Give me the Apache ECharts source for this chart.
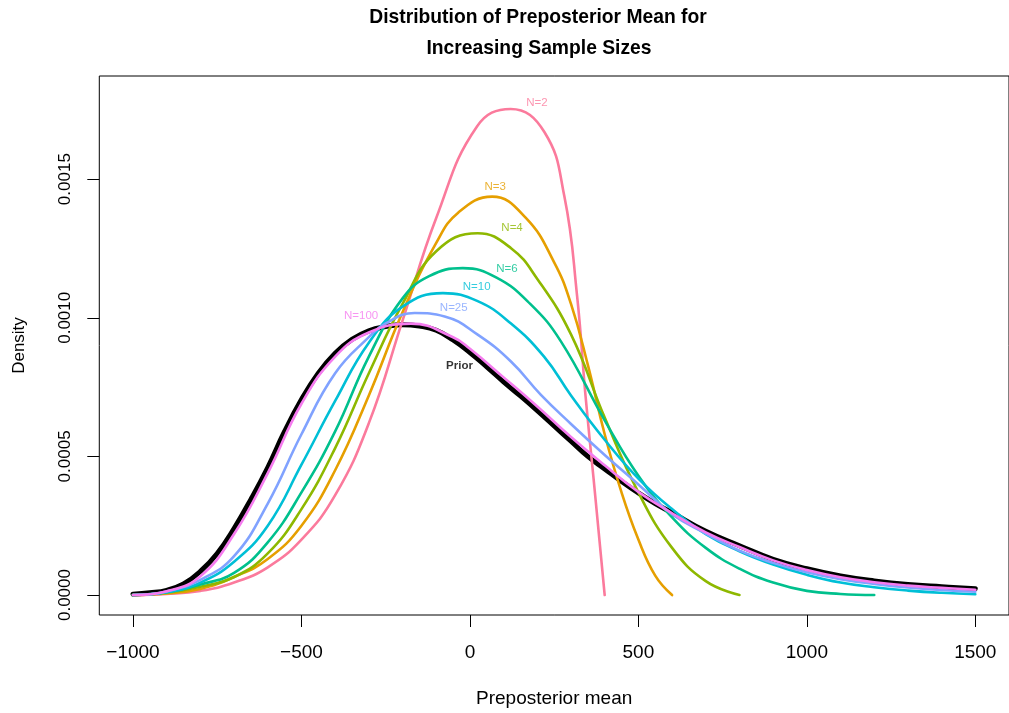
<!DOCTYPE html>
<html><head><meta charset="utf-8">
<script src="https://cdn.jsdelivr.net/npm/echarts@6/dist/echarts.min.js"></script>
<style>html,body{margin:0;padding:0;background:#fff}#c{width:1009px;height:713px}</style>
</head><body><div id="c"></div><script>
// ---- data ----
const xTicks = [-1000, -500, 0, 500, 1000, 1500];
const yTicks = [0, 0.0005, 0.001, 0.0015];

const priorX = [-1000,-950,-900,-850,-800,-750,-700,-650,-600,-550,-500,-450,-400,-350,-300,-250,-200,-150,-100,-50,0,50,100,150,200,250,300,350,400,450,500,550,600,700,800,900,1000,1100,1200,1300,1400,1500];
const priorY = [0.000003,0.000008,0.000017,0.00004,0.000085,0.00015,0.00024,0.000345,0.00046,0.00059,0.000705,0.0008,0.000872,0.000922,0.000953,0.000968,0.000975,0.00097,0.000955,0.00092,0.000875,0.000823,0.000769,0.000718,0.000665,0.00061,0.000555,0.0005,0.000455,0.00041,0.000368,0.00033,0.000297,0.00023,0.000178,0.000129,0.000095,0.000069,0.000051,0.000038,0.00003,0.000023];

const n2X = [-1000,-900,-800,-700,-600,-500,-400,-300,-200,-100,21,121,221,280,318,343,367,400];
const n2Y = [0,0.000004,0.000015,0.000045,0.0001,0.0002,0.00036,0.00062,0.00099,0.00136,0.00169,0.001753,0.00167,0.00144,0.00108,0.00072,0.00042,0];

const n3X = [-1000,-900,-800,-700,-600,-500,-400,-300,-200,-100,-34,66,166,250,300,350,400,450,500,550,600];
const n3Y = [0,0.000006,0.000022,0.000065,0.00013,0.00025,0.00045,0.00072,0.00102,0.00127,0.00138,0.001437,0.00136,0.0012,0.00105,0.00083,0.00058,0.00037,0.0002,0.00007,0];

const n4X = [-1000,-900,-800,-700,-600,-500,-400,-300,-200,-100,23,123,200,300,400,500,600,700,800];
const n4Y = [0,0.000008,0.00003,0.000065,0.00015,0.00031,0.00053,0.0008,0.00105,0.00124,0.001305,0.00125,0.00114,0.00094,0.00064,0.00037,0.00017,0.00005,0];

const n6X = [-1000,-900,-800,-700,-600,-500,-400,-300,-200,-121,-21,79,179,270,400,500,600,700,800,900,1000,1100,1200];
const n6Y = [0,0.00001,0.000038,0.00008,0.00019,0.00037,0.00059,0.00086,0.00107,0.00115,0.001179,0.001145,0.00105,0.000915,0.00063,0.00043,0.00028,0.00017,0.000095,0.000045,0.000015,0.000004,0];

const n10X = [-1000,-900,-800,-700,-600,-500,-400,-300,-200,-80,23,121,220,300,400,500,600,700,800,900,1000,1100,1200,1300,1400,1500];
const n10Y = [0,0.00001,0.000045,0.00012,0.00025,0.00047,0.0007,0.00091,0.00104,0.001089,0.00106,0.00098,0.00086,0.00072,0.00056,0.00042,0.00031,0.00022,0.000158,0.00011,0.000073,0.000045,0.000028,0.000016,0.000008,0.000003];

const n25X = [-1000,-900,-800,-700,-600,-500,-400,-300,-250,-164,-75,23,121,210,300,400,500,600,700,800,900,1000,1100,1200,1300,1400,1500];
const n25Y = [0,0.000013,0.000055,0.00014,0.00033,0.00058,0.0008,0.00093,0.00098,0.001017,0.001005,0.000939,0.000843,0.000723,0.000617,0.000505,0.000399,0.000292,0.000222,0.00016,0.000116,0.000082,0.000057,0.00004,0.000027,0.000018,0.000012];

const n100X = [-1000,-900,-800,-700,-600,-500,-400,-300,-175,-50,0,100,200,300,400,500,600,700,800,900,1000,1100,1200,1300,1400,1500];
const n100Y = [0,0.000014,0.000068,0.00022,0.00044,0.00069,0.00086,0.000947,0.000979,0.00093,0.000888,0.000785,0.00068,0.00057,0.000468,0.000372,0.000295,0.000226,0.000173,0.000125,0.00009,0.000064,0.000046,0.000034,0.000026,0.000019];

const labelNames = ['N=2','N=3','N=4','N=6','N=10','N=25','N=100','Prior'];
const labelX = [199, 75, 125, 110, 20, -48, -323, -31];
const labelY = [0.001774, 0.001474, 0.001326, 0.001176, 0.00111, 0.001037, 0.001008, 0.000826];

// ---- styling ----
const FONT = '"Liberation Sans", Arial, Helvetica, sans-serif';
const curves = [
  {name:'Prior', x:priorX, y:priorY, color:'#000000', w:5},
  {name:'N=2',   x:n2X,   y:n2Y,   color:'#FB7A9C', w:2.6},
  {name:'N=3',   x:n3X,   y:n3Y,   color:'#E69F00', w:2.6},
  {name:'N=4',   x:n4X,   y:n4Y,   color:'#8EB800', w:2.6},
  {name:'N=6',   x:n6X,   y:n6Y,   color:'#00C08D', w:2.6},
  {name:'N=10',  x:n10X,  y:n10Y,  color:'#00BFD6', w:2.6},
  {name:'N=25',  x:n25X,  y:n25Y,  color:'#80A2FF', w:2.6},
  {name:'N=100', x:n100X, y:n100Y, color:'#F57BEF', w:2.6}
];
const colorOf = {};
curves.forEach(c => colorOf[c.name] = c.color);

const series = curves.map(c => ({
  type: 'line', name: c.name, silent: true,
  data: c.x.map((v, i) => [v, c.y[i]]),
  showSymbol: false, symbol: 'none', smooth: 0.45,
  lineStyle: {color: c.color, width: c.w, cap: 'round', join: 'round'},
  z: 2
}));
series.push({
  type: 'scatter', silent: true, symbolSize: 0, z: 5,
  data: labelNames.map((n, i) => ({
    name: n, value: [labelX[i], labelY[i]],
    label: {color: colorOf[n], fontWeight: n === 'Prior' ? 'bold' : 'normal'}
  })),
  label: {show: true, position: 'inside', formatter: p => p.name, fontSize: 11.5, fontFamily: FONT}
});

const chart = echarts.init(document.getElementById('c'), null, {renderer: 'canvas'});
chart.setOption({
  animation: false,
  backgroundColor: '#ffffff',
  title: [
    {text: 'Distribution of Preposterior Mean for', left: 533, top: 3, textAlign: 'center',
     textStyle: {fontSize: 19.3, fontWeight: 'bold', color: '#000', fontFamily: FONT}},
    {text: 'Increasing Sample Sizes', left: 534, top: 34, textAlign: 'center',
     textStyle: {fontSize: 19.3, fontWeight: 'bold', color: '#000', fontFamily: FONT}}
  ],
  grid: {left: 99.3, top: 76, width: 915.6, height: 539.7, show: true,
         borderColor: '#000', borderWidth: 1, backgroundColor: 'transparent'},
  xAxis: {
    type: 'value', min: -1100, max: 1600,
    axisLine: {show: false, onZero: false}, splitLine: {show: false},
    axisTick: {show: true, customValues: xTicks, length: 12, lineStyle: {color: '#000', width: 1}},
    axisLabel: {customValues: xTicks, margin: 28, fontSize: 19, color: '#000', fontFamily: FONT,
      formatter: v => v < 0 ? '\u2212' + Math.abs(v) : String(v)},
    name: 'Preposterior mean', nameLocation: 'middle', nameGap: 74,
    nameTextStyle: {fontSize: 19, color: '#000', fontFamily: FONT}
  },
  yAxis: {
    type: 'value', min: -0.000072, max: 0.001872,
    axisLine: {show: false, onZero: false}, splitLine: {show: false},
    axisTick: {show: true, customValues: yTicks, length: 12, lineStyle: {color: '#000', width: 1}},
    axisLabel: {customValues: yTicks, rotate: 90, margin: 25, fontSize: 17, color: '#000', fontFamily: FONT,
      formatter: v => v.toFixed(4)},
    name: 'Density', nameLocation: 'middle', nameGap: 71,
    nameTextStyle: {fontSize: 17, color: '#000', fontFamily: FONT}
  },
  series: series
});
</script></body></html>
